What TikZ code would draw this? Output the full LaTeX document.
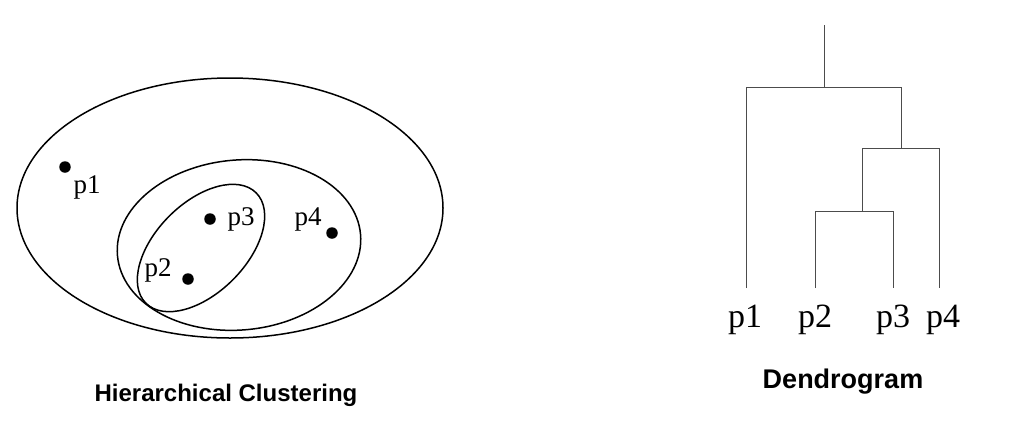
\documentclass[tikz,border=0pt]{standalone}
\usepackage{fontspec}
\setmainfont{Liberation Serif}
\newfontfamily\titlefont{Liberation Sans}
\begin{document}
\begin{tikzpicture}[x=1pt,y=-1pt,
  clus/.style={draw=black, line width=1.5pt},
  pt/.style={circle, fill=black, inner sep=0pt, minimum size=11.5pt},
  lab/.style={font=\fontsize{27}{27}\selectfont, inner sep=0pt},
  dlab/.style={font=\fontsize{34}{34}\selectfont, inner sep=0pt},
  title/.style={font=\titlefont\bfseries\fontsize{24}{24}\selectfont, inner sep=0pt},
  dend/.style={draw=black!70, line width=0.9pt}]
\useasboundingbox (0,0) rectangle (1012,424);
% clusters
\draw[clus] (230,208) ellipse [x radius=213, y radius=130];
\draw[clus] (239,245) ellipse [x radius=122, y radius=85, rotate=5];
\draw[clus] (201,248) ellipse [x radius=78, y radius=45, rotate=45];
% points
\node[pt] (d1) at (65,167) {};
\node[pt] (d2) at (188,279) {};
\node[pt] (d3) at (210,219) {};
\node[pt] (d4) at (332,233) {};
\node[lab] (l1) at (87,187) {p1};
\node[lab] (l2) at (158,270) {p2};
\node[lab] (l3) at (241,219) {p3};
\node[lab] (l4) at (308,219) {p4};
% dendrogram
\coordinate (top) at (824,25);
\coordinate (j1) at (824,87);
\coordinate (a1) at (746,87);
\coordinate (b1) at (901,87);
\coordinate (b2) at (901,148);
\coordinate (a2) at (862,148);
\coordinate (c2) at (939,148);
\coordinate (a3) at (862,211);
\coordinate (l3a) at (815,211);
\coordinate (r3a) at (893,211);
\coordinate (e1) at (746,288);
\coordinate (e2) at (815,288);
\coordinate (e3) at (893,288);
\coordinate (e4) at (939,288);
\draw[dend] (top) -- (j1);
\draw[dend] (e1) -- (a1) -- (b1) -- (b2);
\draw[dend] (a3) -- (a2) -- (c2) -- (e4);
\draw[dend] (e2) -- (l3a) -- (r3a) -- (e3);
\node[dlab] (t1) at (745,320) {p1};
\node[dlab] (t2) at (815,320) {p2};
\node[dlab] (t3) at (893,320) {p3};
\node[dlab] (t4) at (943,320) {p4};
% titles
\node[title] (h) at (226,395) {Hierarchical Clustering};
\node[title, font=\titlefont\bfseries\fontsize{27}{27}\selectfont] (dg) at (843,382) {Dendrogram};
\end{tikzpicture}
\end{document}
